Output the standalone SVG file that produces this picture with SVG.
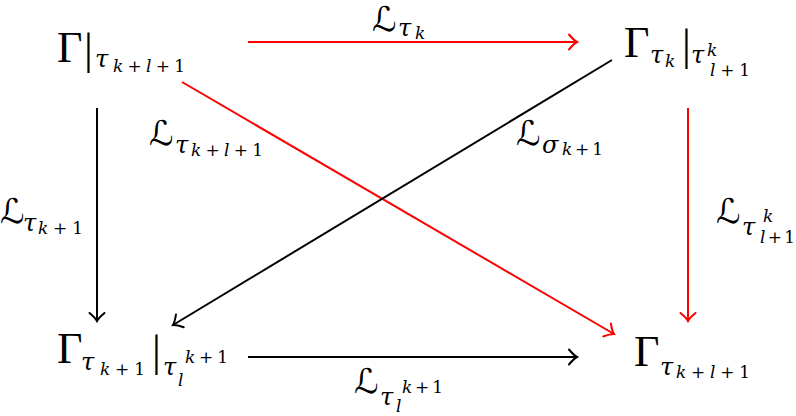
<svg xmlns="http://www.w3.org/2000/svg" width="796" height="416" viewBox="0 0 796 416">
<style>
text{font-family:"DejaVu Serif","Liberation Serif",serif;fill:#000}
.G{font-family:"Liberation Serif","DejaVu Serif",serif;font-size:44px}
.b{font-family:"Liberation Serif","DejaVu Serif",serif;font-size:44px}
.t{font-size:24px;font-style:italic}
.s{font-size:17px}
.i{font-style:italic}
.L{font-family:"DejaVu Serif","DejaVu Sans",serif;font-size:34px;font-style:italic}
.k{stroke:#000;stroke-width:2;fill:none}
.r{stroke:#f00;stroke-width:2;fill:none}
</style>
<defs>
<marker id="ak" markerUnits="userSpaceOnUse" markerWidth="20" markerHeight="20" refX="0" refY="0" viewBox="-10 -10 20 20" orient="auto" overflow="visible">
<path d="M-8,-7.5 Q-3,-1.5 0,0 Q-3,1.5 -8,7.5" stroke="#000" stroke-width="2" fill="none" stroke-linecap="round"/>
</marker>
<marker id="ar" markerUnits="userSpaceOnUse" markerWidth="20" markerHeight="20" refX="0" refY="0" viewBox="-10 -10 20 20" orient="auto" overflow="visible">
<path d="M-8,-7.5 Q-3,-1.5 0,0 Q-3,1.5 -8,7.5" stroke="#f00" stroke-width="2" fill="none" stroke-linecap="round"/>
</marker>
</defs>
<g id="connectors">
<line class="r" x1="248" y1="42" x2="577" y2="42" marker-end="url(#ar)"/>
<line class="k" x1="97" y1="108" x2="97" y2="321" marker-end="url(#ak)"/>
<line class="r" x1="688" y1="108" x2="688" y2="321" marker-end="url(#ar)"/>
<line class="k" x1="248" y1="357" x2="577" y2="357" marker-end="url(#ak)"/>
<line class="r" x1="182" y1="82" x2="614" y2="334" marker-end="url(#ar)"/>
<line class="k" x1="612" y1="60" x2="173" y2="325" marker-end="url(#ak)"/>
<text class="L" x="372" y="31">ℒ</text>
<text class="t" x="398" y="36">τ</text>
<text class="s i" x="415" y="39">k</text>
<text class="L" x="149" y="145">ℒ</text>
<text class="t" x="175" y="153">τ</text>
<text class="s" x="191" y="156" textLength="72" lengthAdjust="spacing"><tspan class="i">k</tspan>+<tspan class="i">l</tspan>+1</text>
<text class="L" x="516" y="145">ℒ</text>
<text class="t" x="542" y="153">σ</text>
<text class="s" x="562" y="155" textLength="41" lengthAdjust="spacing"><tspan class="i">k</tspan>+1</text>
<text class="L" x="0" y="223">ℒ</text>
<text class="t" x="23" y="231">τ</text>
<text class="s" x="38" y="234" textLength="45" lengthAdjust="spacing"><tspan class="i">k</tspan>+1</text>
<text class="L" x="716" y="223">ℒ</text>
<text class="t" x="742" y="235">τ</text>
<text class="s i" x="763" y="222">k</text>
<text class="s" x="760" y="243" textLength="35" lengthAdjust="spacing"><tspan class="i">l</tspan>+1</text>
<text class="L" x="354" y="393">ℒ</text>
<text class="t" x="380" y="405">τ</text>
<text class="s i" x="396" y="412">l</text>
<text class="s" x="402" y="393" textLength="41" lengthAdjust="spacing"><tspan class="i">k</tspan>+1</text>
</g>
<g id="nA">
<text class="G" x="57" y="62">Γ</text>
<text class="b" x="84" y="64">|</text>
<text class="t" x="95" y="67">τ</text>
<text class="s" x="113" y="72" textLength="72" lengthAdjust="spacing"><tspan class="i">k</tspan>+<tspan class="i">l</tspan>+1</text>
</g>
<g id="nB">
<text class="G" x="624" y="57">Γ</text>
<text class="t" x="650" y="63">τ</text>
<text class="s i" x="665" y="67">k</text>
<text class="b" x="682" y="60">|</text>
<text class="t" x="691" y="63">τ</text>
<text class="s i" x="707" y="56">k</text>
<text class="s" x="710" y="76" textLength="40" lengthAdjust="spacing"><tspan class="i">l</tspan>+1</text>
</g>
<g id="nC">
<text class="G" x="57" y="363">Γ</text>
<text class="t" x="81" y="370">τ</text>
<text class="s" x="100" y="375" textLength="45" lengthAdjust="spacing"><tspan class="i">k</tspan>+1</text>
<text class="b" x="152" y="366">|</text>
<text class="t" x="163" y="375">τ</text>
<text class="s i" x="178" y="386">l</text>
<text class="s" x="185" y="363" textLength="43" lengthAdjust="spacing"><tspan class="i">k</tspan>+1</text>
</g>
<g id="nD">
<text class="G" x="634" y="366">Γ</text>
<text class="t" x="660" y="375">τ</text>
<text class="s" x="676" y="378" textLength="74" lengthAdjust="spacing"><tspan class="i">k</tspan>+<tspan class="i">l</tspan>+1</text>
</g>
</svg>
